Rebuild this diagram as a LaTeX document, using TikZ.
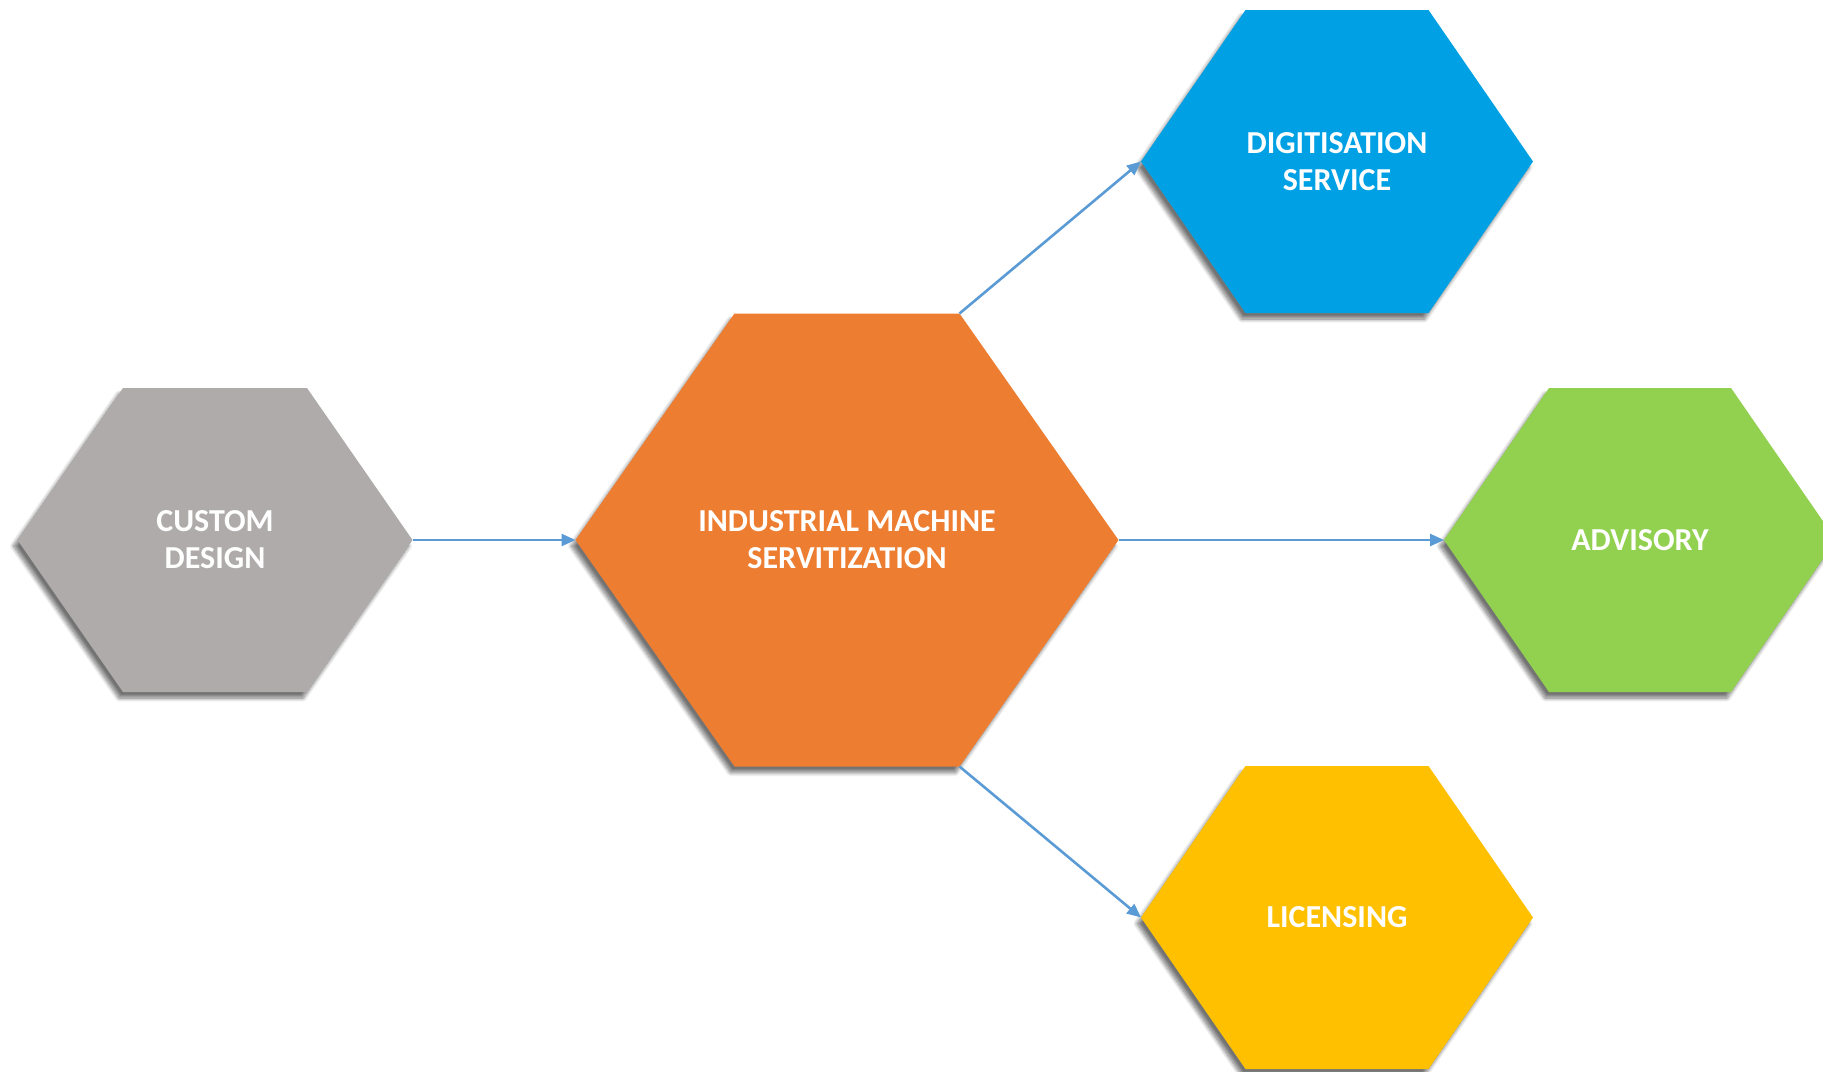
\documentclass[tikz,border=0pt]{standalone}
\usepackage{fontspec}
\setmainfont{Carlito}
\usetikzlibrary{arrows.meta,shadows.blur}
\definecolor{hgray}{HTML}{AFABAB}
\definecolor{horange}{HTML}{ED7D31}
\definecolor{hblue}{HTML}{00A1E4}
\definecolor{hgreen}{HTML}{92D050}
\definecolor{hyellow}{HTML}{FFC000}
\definecolor{arrowblue}{HTML}{5B9BD5}
% #1 name, #2 cx, #3 cy, #4 half width, #5 half height, #6 half top edge, #7 colour, #8 text
\newcommand\hexshape[8]{%
  \coordinate (#1-L) at ({#2-#4},{#3});
  \coordinate (#1-R) at ({#2+#4},{#3});
  \coordinate (#1-TL) at ({#2-#6},{#3-#5});
  \coordinate (#1-TR) at ({#2+#6},{#3-#5});
  \coordinate (#1-BL) at ({#2-#6},{#3+#5});
  \coordinate (#1-BR) at ({#2+#6},{#3+#5});
  \fill[hexfill, fill=#7] (#1-TL) -- (#1-TR) -- (#1-R) -- (#1-BR) -- (#1-BL) -- (#1-L) -- cycle;
  \node[hexlabel] (#1) at ({#2},{#3}) {#8};
}
\tikzset{
  hexfill/.style={blur shadow={shadow xshift=-4pt, shadow yshift=-6pt, shadow blur radius=4pt, shadow blur steps=8, shadow opacity=55}},
  hexlabel/.style={text=white, align=center, inner sep=0pt, font=\fontsize{32}{37}\selectfont\bfseries},
  conn/.style={draw=arrowblue, line width=2.6pt, -{Triangle[length=14pt, width=12pt]}}
}
\begin{document}
\begin{tikzpicture}[x=1pt, y=-1pt]
  \useasboundingbox (0,0) rectangle (1823,1071);
  \hexshape{custom}{215}{540}{197.5}{152}{92}{hgray}{CUSTOM\\DESIGN}
  \hexshape{ims}{847}{540}{271.5}{226.5}{112.5}{horange}{INDUSTRIAL MACHINE\\SERVITIZATION}
  \hexshape{digit}{1337}{161.5}{196}{151.5}{91.5}{hblue}{DIGITISATION\\SERVICE}
  \hexshape{adv}{1640}{540}{196}{152}{91}{hgreen}{ADVISORY}
  \hexshape{lic}{1337}{917.5}{196}{151.5}{91.5}{hyellow}{LICENSING}
  \draw[conn] (custom-R) -- (ims-L);
  \draw[conn] (ims-TR) -- (digit-L);
  \draw[conn] (ims-R) -- (adv-L);
  \draw[conn] (ims-BR) -- (lic-L);
\end{tikzpicture}
\end{document}
